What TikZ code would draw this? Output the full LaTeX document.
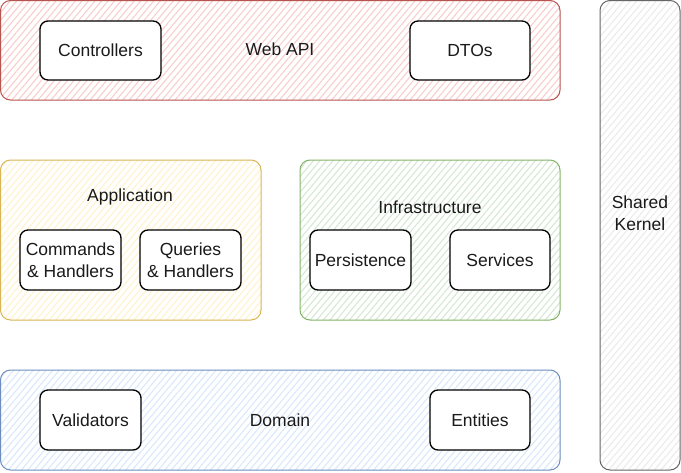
\documentclass[tikz,border=0pt]{standalone}
\usepackage{fontspec}
\setmainfont{Liberation Sans}
\usetikzlibrary{patterns.meta}
\definecolor{redS}{HTML}{B85450}\definecolor{redF}{HTML}{F8CECC}
\definecolor{yelS}{HTML}{D6B656}\definecolor{yelF}{HTML}{FFF2CC}
\definecolor{grnS}{HTML}{82B366}\definecolor{grnF}{HTML}{D5E8D4}
\definecolor{bluS}{HTML}{6C8EBF}\definecolor{bluF}{HTML}{DAE8FC}
\definecolor{gryS}{HTML}{666666}\definecolor{gryF}{HTML}{EBEBEB}
\definecolor{txt}{HTML}{1A1A1A}
\tikzset{
  layer/.style={draw=#1S, line width=1pt, rounded corners=10pt,
    pattern={Lines[angle=50,distance=5pt,line width=1.1pt]}, pattern color=#1F},
  item/.style={draw=black, line width=1.3pt, rounded corners=8pt, fill=white},
  lbl/.style={font=\fontsize{17.5}{22}\selectfont, text=txt, align=center, inner sep=0pt},
}
\begin{document}
\begin{tikzpicture}[x=1pt,y=-1pt]
\useasboundingbox (0,0) rectangle (681,472);
% layers
\draw[layer=red] (0.5,0.5) rectangle (560,100);
\draw[layer=yel] (0.5,160) rectangle (261,320);
\draw[layer=grn] (300,160) rectangle (560,320);
\draw[layer=blu] (0.5,370) rectangle (560,470);
\draw[layer=gry] (600,0.5) rectangle (680,470);
% layer labels
\node[lbl] (webapi) at (280,49) {Web API};
\node[lbl] (app) at (130,197) {Application};
\node[lbl] (infra) at (430,207) {Infrastructure};
\node[lbl] (domain) at (280,420) {Domain};
\node[lbl] (shared) at (640,213) {Shared\\Kernel};
% items
\draw[item] (40,21) rectangle (161,80);
\node[lbl] (ctrl) at (100.5,50) {Controllers};
\draw[item] (410,21) rectangle (530,80);
\node[lbl] (dtos) at (470,50) {DTOs};
\draw[item] (20,230) rectangle (121,290);
\node[lbl] (cmd) at (70.5,260) {Commands\\\& Handlers};
\draw[item] (140,230) rectangle (241,290);
\node[lbl] (qry) at (190.5,260) {Queries\\\& Handlers};
\draw[item] (310,230) rectangle (411,290);
\node[lbl] (pers) at (360.5,260) {Persistence};
\draw[item] (450,230) rectangle (550,290);
\node[lbl] (svc) at (500,260) {Services};
\draw[item] (40,390) rectangle (141,450);
\node[lbl] (val) at (90.5,420) {Validators};
\draw[item] (430,390) rectangle (530,450);
\node[lbl] (ent) at (480,420) {Entities};
\end{tikzpicture}
\end{document}
